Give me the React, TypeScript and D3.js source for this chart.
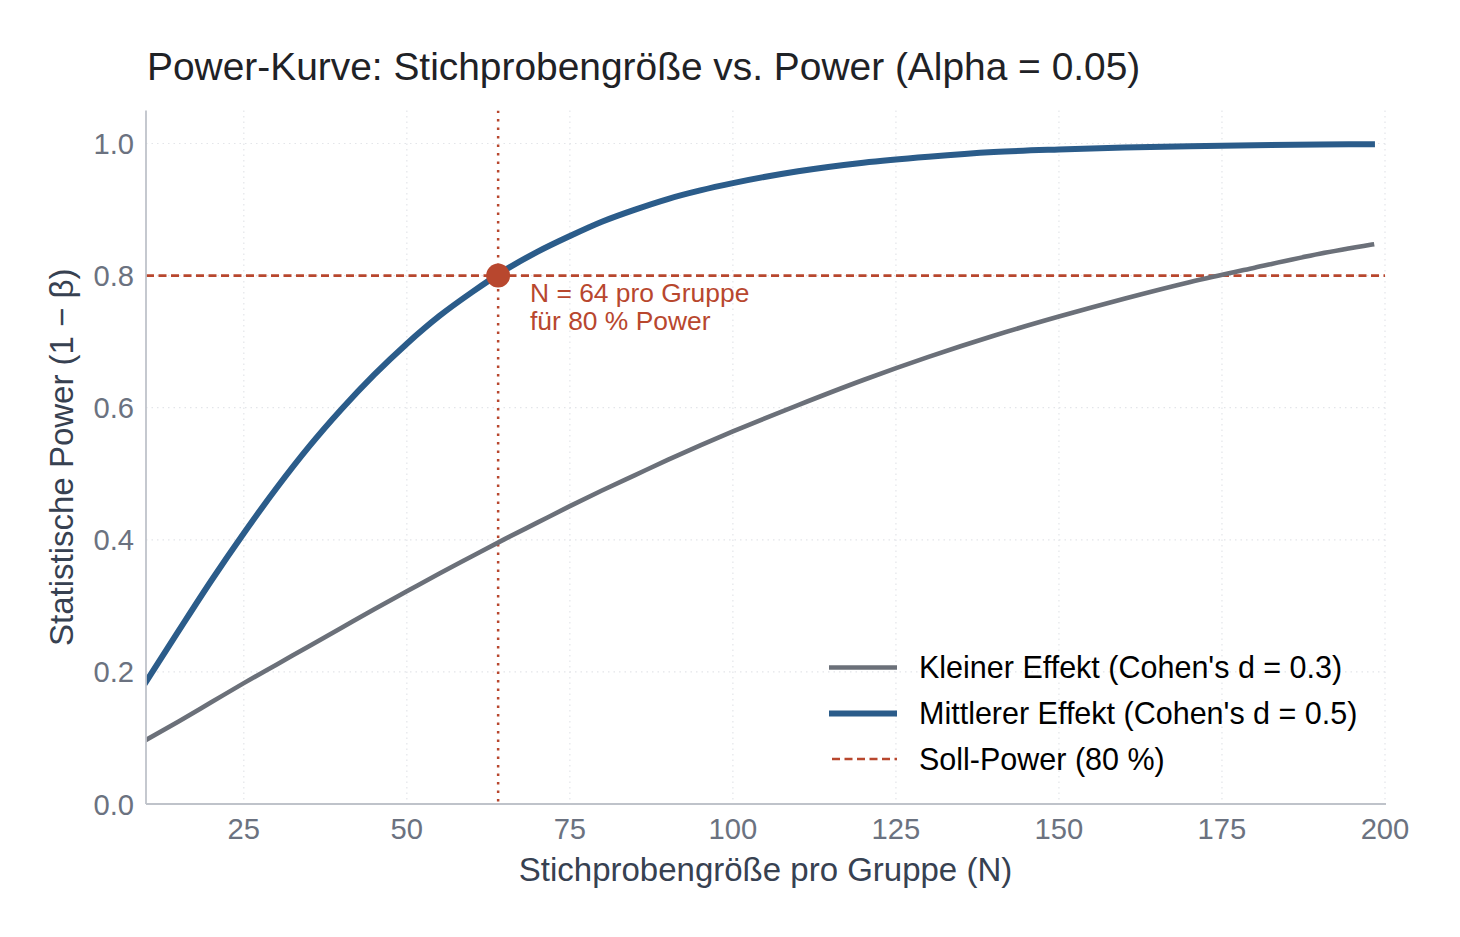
import React from "react";
import * as d3 from "d3";

// Sample sizes per group and the power read for each effect size
const sampleSizes = [10, 15, 20, 25, 30, 35, 40, 45, 50, 55, 60, 65, 70, 75, 80, 85, 90, 95, 100, 110, 120, 130, 140, 150, 160, 170, 180, 190, 198];
const powerSmall = [0.097, 0.125, 0.154, 0.183, 0.211, 0.239, 0.267, 0.295, 0.322, 0.349, 0.375, 0.401, 0.426, 0.451, 0.475, 0.498, 0.521, 0.543, 0.564, 0.604, 0.642, 0.677, 0.709, 0.738, 0.765, 0.79, 0.812, 0.833, 0.847];
const powerMedium = [0.185, 0.262, 0.338, 0.41, 0.478, 0.541, 0.598, 0.65, 0.697, 0.739, 0.775, 0.808, 0.836, 0.86, 0.882, 0.9, 0.916, 0.929, 0.94, 0.958, 0.971, 0.98, 0.987, 0.991, 0.994, 0.996, 0.9975, 0.9985, 0.999];

const xTicks = [25, 50, 75, 100, 125, 150, 175, 200];
const yTicks = [0, 0.2, 0.4, 0.6, 0.8, 1.0];

const targetPower = 0.8;
const requiredN = 64;

const seriesLabels = [
  "Kleiner Effekt (Cohen's d = 0.3)",
  "Mittlerer Effekt (Cohen's d = 0.5)",
  "Soll-Power (80 %)",
];

const COLORS = {
  small: "#6b7079",
  medium: "#2b5c8a",
  target: "#b8472e",
  tick: "#6b7280",
  label: "#374151",
  spine: "#bfc3ca",
  grid: "#e3e5e9",
};

const FONT = "'Liberation Sans', Arial, Helvetica, sans-serif";

export default function App() {
  const width = 1460;
  const height = 937;
  const left = 146;
  const right = 1385;
  const top = 110.5;
  const bottom = 804;

  const x = d3.scaleLinear().domain([10, 200]).range([left, right]);
  const y = d3.scaleLinear().domain([0, 1.05]).range([bottom, top]);

  const line = d3
    .line<number>()
    .x((_, i) => x(sampleSizes[i]))
    .y((d) => y(d))
    .curve(d3.curveMonotoneX);

  const legendX = 829;
  const legendRows = [667.5, 713.5, 759];
  const smallWidth = 4.6;
  const mediumWidth = 6;

  return (
    <svg width={width} height={height} style={{ position: "absolute", left: 0, top: 0, background: "#fff" }} fontFamily={FONT}>
      <defs>
        <clipPath id="plot-area">
          <rect x={left} y={top} width={right - left} height={bottom - top} />
        </clipPath>
      </defs>

      {/* grid */}
      {xTicks.map((t) => (
        <line key={"gx" + t} x1={x(t)} x2={x(t)} y1={top} y2={bottom} stroke={COLORS.grid} strokeWidth={1.2} strokeDasharray="1.5,4" />
      ))}
      {yTicks.map((t) => (
        <line key={"gy" + t} x1={left} x2={right} y1={y(t)} y2={y(t)} stroke={COLORS.grid} strokeWidth={1.2} strokeDasharray="1.5,4" />
      ))}

      <g clipPath="url(#plot-area)">
        {/* target power reference */}
        <line x1={left} x2={right} y1={y(targetPower)} y2={y(targetPower)} stroke={COLORS.target} strokeWidth={2.6} strokeDasharray="8,4.5" />
        <line x1={x(requiredN)} x2={x(requiredN)} y1={top} y2={bottom} stroke={COLORS.target} strokeWidth={2.5} strokeDasharray="2.5,6" />

        {/* power curves */}
        <path d={line(powerSmall) || ""} fill="none" stroke={COLORS.small} strokeWidth={smallWidth} strokeLinecap="square" />
        <path d={line(powerMedium) || ""} fill="none" stroke={COLORS.medium} strokeWidth={mediumWidth} strokeLinecap="square" />

        <circle cx={x(requiredN)} cy={y(targetPower)} r={12} fill={COLORS.target} />
      </g>

      {/* annotation */}
      <text x={530} y={301.5} fontSize={26.4} fill={COLORS.target}>N = {requiredN} pro Gruppe</text>
      <text x={530} y={330} fontSize={26.4} fill={COLORS.target}>für {targetPower * 100} % Power</text>

      {/* spines */}
      <line x1={left} x2={left} y1={top} y2={bottom} stroke={COLORS.spine} strokeWidth={1.8} />
      <line x1={left} x2={right + 1} y1={bottom} y2={bottom} stroke={COLORS.spine} strokeWidth={1.8} />

      {/* tick labels */}
      {xTicks.map((t) => (
        <text key={"tx" + t} x={x(t)} y={839} fontSize={29.2} fill={COLORS.tick} textAnchor="middle">
          {t}
        </text>
      ))}
      {yTicks.map((t) => (
        <text key={"ty" + t} x={134} y={y(t) + 10.5} fontSize={29.2} fill={COLORS.tick} textAnchor="end">
          {d3.format(".1f")(t)}
        </text>
      ))}

      {/* axis titles */}
      <text x={(left + right) / 2} y={880.5} fontSize={33} fill={COLORS.label} textAnchor="middle">
        Stichprobengröße pro Gruppe (N)
      </text>
      <text transform={`translate(73, ${(top + bottom) / 2}) rotate(-90)`} fontSize={33} fill={COLORS.label} textAnchor="middle">
        Statistische Power (1 − β)
      </text>

      {/* title */}
      <text x={147} y={79.5} fontSize={38.9} fill="#1f2226">
        Power-Kurve: Stichprobengröße vs. Power (Alpha = 0.05)
      </text>

      {/* legend */}
      <line x1={legendX} x2={897} y1={legendRows[0]} y2={legendRows[0]} stroke={COLORS.small} strokeWidth={smallWidth} />
      <line x1={legendX} x2={897} y1={legendRows[1]} y2={legendRows[1]} stroke={COLORS.medium} strokeWidth={mediumWidth} />
      <line x1={legendX + 3} x2={897} y1={legendRows[2]} y2={legendRows[2]} stroke={COLORS.target} strokeWidth={2.6} strokeDasharray="8,4.5" />
      {seriesLabels.map((s, i) => (
        <text key={s} x={919} y={legendRows[i] + 10.8} fontSize={30.5} fill="#000">
          {s}
        </text>
      ))}
    </svg>
  );
}
